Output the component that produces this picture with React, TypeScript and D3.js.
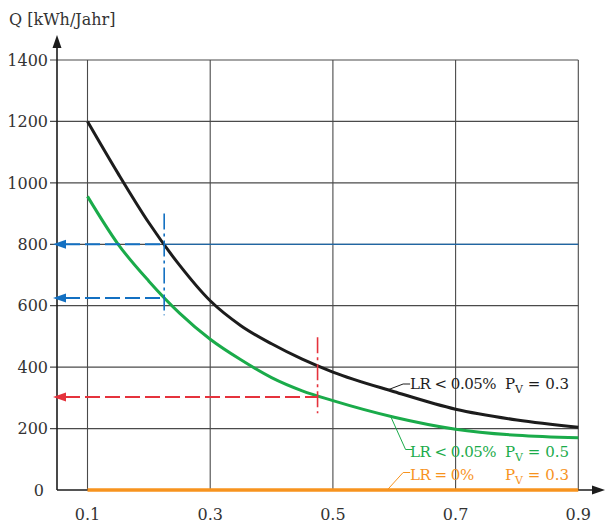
import * as d3 from "d3";

const xValues = [0.1, 0.15, 0.2, 0.25, 0.3, 0.35, 0.4, 0.45, 0.5, 0.6, 0.7, 0.8, 0.9];
const blackSeries = [1200, 1030, 870, 732, 616, 535, 476, 426, 384, 320, 263, 228, 204];
const greenSeries = [956, 800, 680, 576, 491, 424, 366, 323, 291, 237, 198, 178, 170];
const orangeSeries = [0, 0, 0, 0, 0, 0, 0, 0, 0, 0, 0, 0, 0];
const xTicks = [0.1, 0.3, 0.5, 0.7, 0.9];
const yTicks = [0, 200, 400, 600, 800, 1000, 1200, 1400];

// reading guides (data units)
const blueGuides = [
  { x: 0.225, y: 800 },
  { x: 0.225, y: 625 },
];
const blueVertical = [569, 900];
const redGuide = { x: 0.475, y: 303 };
const redVertical = [250, 497];

const W = 606;
const H = 523;
const FONT = "'DejaVu Serif', serif";

const C = {
  black: "#1c1c1c",
  green: "#1aab4a",
  orange: "#f7931e",
  blue: "#1370c2",
  red: "#e5323c",
  grid: "#4a4a4a",
  text: "#333",
};

export default function App() {
  const x = d3.scaleLinear().domain([0.1, 0.9]).range([87.5, 578.3]);
  const y = d3.scaleLinear().domain([0, 1400]).range([490, 60]);
  const axisX = 57;

  const line = d3
    .line<number>()
    .x((_, i) => x(xValues[i]))
    .y(d => y(d))
    .curve(d3.curveMonotoneX);

  const at = (series: number[], xv: number) => {
    const i = Math.min(d3.bisectRight(xValues, xv), xValues.length - 1);
    const t = (xv - xValues[i - 1]) / (xValues[i] - xValues[i - 1]);
    return series[i - 1] + t * (series[i] - series[i - 1]);
  };

  const labels = [
    { series: blackSeries, ax: 0.59, color: C.black, text: "LR < 0.05%", pv: "0.3", elbowY: 384, base: 389 },
    { series: greenSeries, ax: 0.594, color: C.green, text: "LR < 0.05%", pv: "0.5", elbowY: 449.5, base: 456.5 },
    { series: orangeSeries, ax: 0.59, color: C.orange, text: "LR = 0%", pv: "0.3", elbowY: 472.5, base: 479.5 },
  ];

  const arrowHead = (tipX: number, yy: number, color: string) => (
    <path d={`M${tipX},${yy} L${tipX + 13},${yy - 4.5} L${tipX + 13},${yy + 4.5} Z`} fill={color} />
  );

  return (
    <svg width={W} height={H} style={{ position: "absolute", left: 0, top: 0, background: "#fff" }} fontFamily={FONT}>
      {/* grid */}
      {yTicks
        .filter(t => t > 0)
        .map(t => (
          <line key={"h" + t} x1={50} x2={x(0.9)} y1={y(t)} y2={y(t)} stroke={C.grid} strokeWidth={1.2} />
        ))}
      {xTicks.map(t => (
        <line key={"v" + t} x1={x(t)} x2={x(t)} y1={y(0)} y2={y(1400)} stroke={C.grid} strokeWidth={1.1} />
      ))}

      {/* axes */}
      <line x1={axisX} x2={axisX} y1={y(0)} y2={44} stroke={C.black} strokeWidth={1.6} />
      <path d={`M${axisX},35 L${axisX - 4.5},48 L${axisX + 4.5},48 Z`} fill={C.black} />
      <line x1={axisX} x2={595} y1={y(0)} y2={y(0)} stroke={C.black} strokeWidth={1.6} />
      <path d={`M605,${y(0)} L592,${y(0) - 4.5} L592,${y(0) + 4.5} Z`} fill={C.black} />

      {/* tick labels */}
      {yTicks.map(t => (
        <text key={"yl" + t} x={t === 0 ? 44 : 48} y={y(t)} dy="0.36em" textAnchor="end" fontSize={16} fill={C.text}>
          {t}
        </text>
      ))}
      {xTicks.map(t => (
        <text key={"xl" + t} x={x(t)} y={520} textAnchor="middle" fontSize={16} fill={C.text}>
          {t}
        </text>
      ))}
      <text x={9} y={25} fontSize={16} fill={C.text}>
        Q [kWh/Jahr]
      </text>

      {/* curves */}
      <path d={line(blackSeries) ?? ""} fill="none" stroke={C.black} strokeWidth={3} />
      <path d={line(greenSeries) ?? ""} fill="none" stroke={C.green} strokeWidth={3} />
      <path d={line(orangeSeries) ?? ""} fill="none" stroke={C.orange} strokeWidth={3.5} />

      {/* blue guides */}
      <line x1={x(blueGuides[0].x)} x2={x(0.9)} y1={y(blueGuides[0].y)} y2={y(blueGuides[0].y)} stroke={C.blue} strokeWidth={1.1} />
      {blueGuides.map((g, i) => (
        <g key={"bg" + i}>
          <line x1={65} x2={x(g.x)} y1={y(g.y)} y2={y(g.y)} stroke={C.blue} strokeWidth={2} strokeDasharray="15,5" />
          {arrowHead(53, y(g.y), C.blue)}
        </g>
      ))}
      <line
        x1={x(blueGuides[0].x)}
        x2={x(blueGuides[0].x)}
        y1={y(blueVertical[1])}
        y2={y(blueVertical[0])}
        stroke={C.blue}
        strokeWidth={1.6}
        strokeDasharray="16,4,3,4"
      />

      {/* red guide */}
      <line x1={65} x2={x(redGuide.x)} y1={y(redGuide.y)} y2={y(redGuide.y)} stroke={C.red} strokeWidth={2} strokeDasharray="15,5" />
      {arrowHead(53, y(redGuide.y), C.red)}
      <line
        x1={x(redGuide.x)}
        x2={x(redGuide.x)}
        y1={y(redVertical[1])}
        y2={y(redVertical[0])}
        stroke={C.red}
        strokeWidth={1.6}
        strokeDasharray="16,4,3,4"
      />

      {/* labels with leaders */}
      {labels.map((l, i) => {
        const ax = x(l.ax);
        const ay = y(at(l.series, l.ax)) + (l.series === orangeSeries ? -1 : 0);
        return (
          <g key={"lab" + i} fill={l.color}>
            <polyline
              points={`${ax},${ay} ${ax + 15},${l.elbowY} ${ax + 22},${l.elbowY}`}
              fill="none"
              stroke={l.color}
              strokeWidth={1}
            />
            <text x={410} y={l.base} fontSize={15} letterSpacing={-0.5}>
              {l.text}
            </text>
            <text x={505} y={l.base} fontSize={15}>
              P
              <tspan fontSize={11} dy={4}>
                V
              </tspan>
              <tspan dy={-4}> = {l.pv}</tspan>
            </text>
          </g>
        );
      })}
    </svg>
  );
}
